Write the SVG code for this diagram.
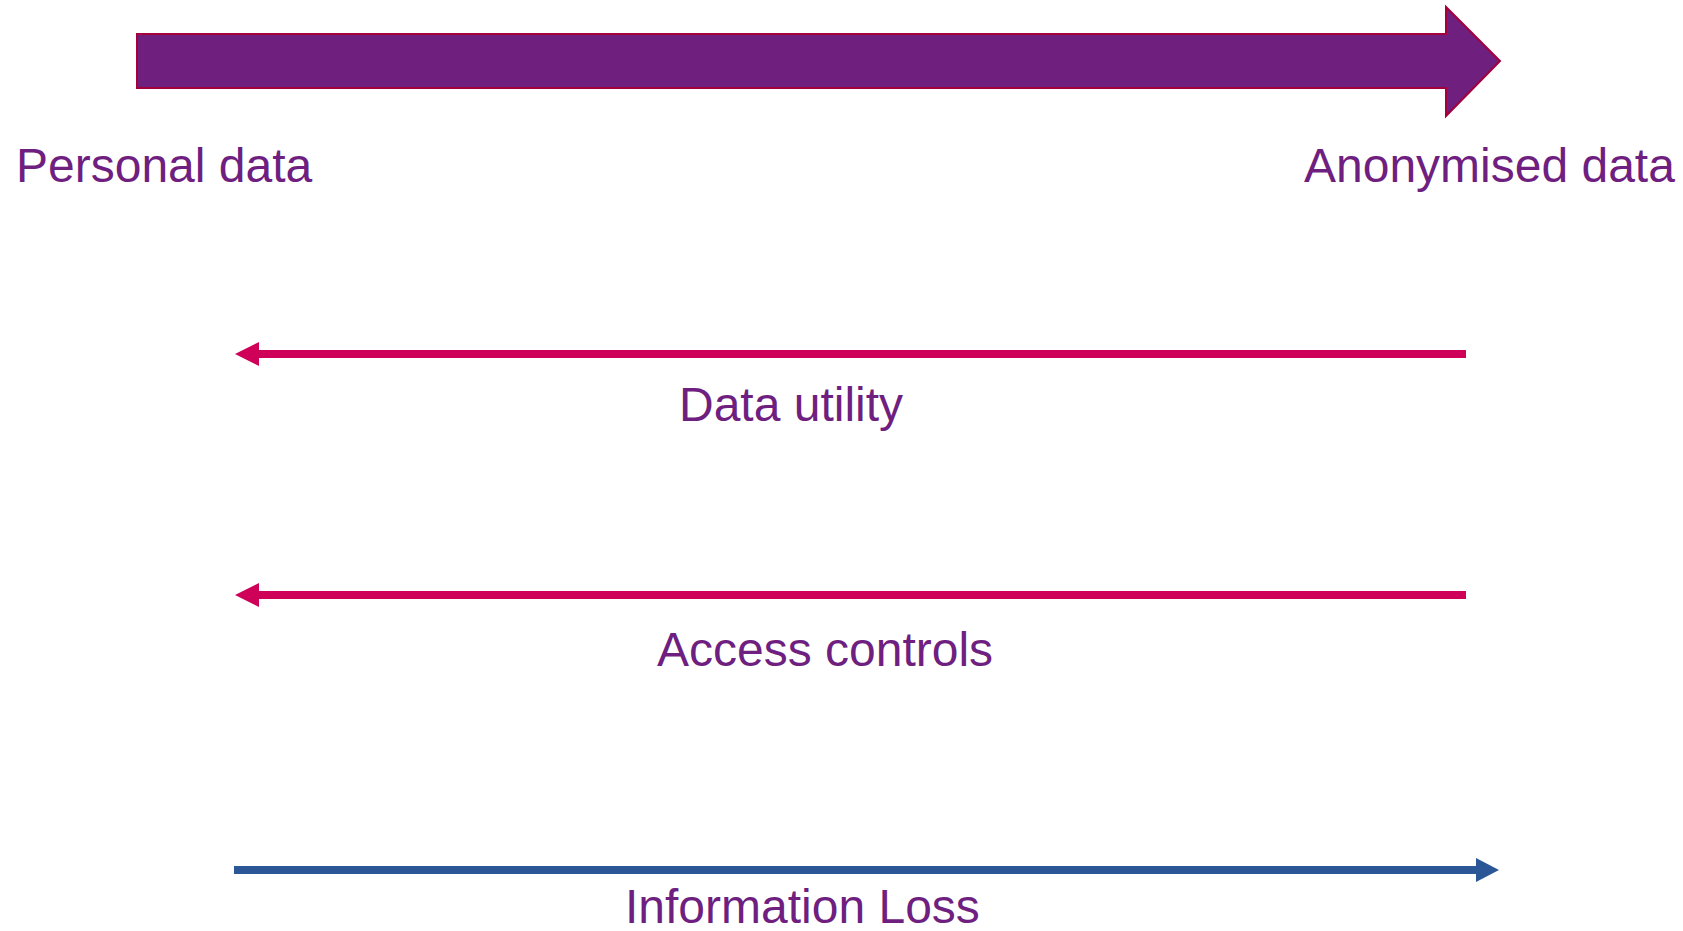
<svg xmlns="http://www.w3.org/2000/svg" width="1683" height="931" viewBox="0 0 1683 931">
  <style>
    .lbl { font-family: "Liberation Sans", Arial, sans-serif; font-size: 48px; fill: #6F1F7F; }
    .red { stroke: #CF0058; stroke-width: 8; fill: none; }
    .blue { stroke: #2B5797; stroke-width: 8; fill: none; }
  </style>
  <defs>
    <marker id="headRed" markerUnits="userSpaceOnUse" markerWidth="26" markerHeight="26" viewBox="0 -13 26 26" refX="0" refY="0" orient="auto">
      <path d="M0,-12 L24,0 L0,12 Z" fill="#CF0058"/>
    </marker>
    <marker id="headBlue" markerUnits="userSpaceOnUse" markerWidth="26" markerHeight="26" viewBox="0 -13 26 26" refX="0" refY="0" orient="auto">
      <path d="M0,-12 L23,0 L0,12 Z" fill="#2B5797"/>
    </marker>
  </defs>
  <rect width="1683" height="931" fill="#FFFFFF"/>

  <g id="big-arrow">
    <path d="M137,34 L1446,34 L1446,7 L1500,61 L1446,116 L1446,88 L137,88 Z" fill="#6F1F7E" stroke="#A3003C" stroke-width="2" stroke-linejoin="miter"/>
  </g>

  <g id="personal-data">
    <text class="lbl" x="16" y="182">Personal data</text>
  </g>
  <g id="anonymised-data">
    <text class="lbl" x="1304" y="182">Anonymised data</text>
  </g>

  <g id="connectors">
    <line id="data-utility-arrow" class="red" x1="1466" y1="354" x2="259" y2="354" marker-end="url(#headRed)"/>
    <line id="access-controls-arrow" class="red" x1="1466" y1="595" x2="259" y2="595" marker-end="url(#headRed)"/>
    <line id="information-loss-arrow" class="blue" x1="234" y1="870" x2="1476" y2="870" marker-end="url(#headBlue)"/>
  </g>

  <g id="data-utility">
    <text class="lbl" x="679" y="421">Data utility</text>
  </g>
  <g id="access-controls">
    <text class="lbl" x="657" y="666">Access controls</text>
  </g>
  <g id="information-loss">
    <text class="lbl" x="625" y="923">Information Loss</text>
  </g>
</svg>
